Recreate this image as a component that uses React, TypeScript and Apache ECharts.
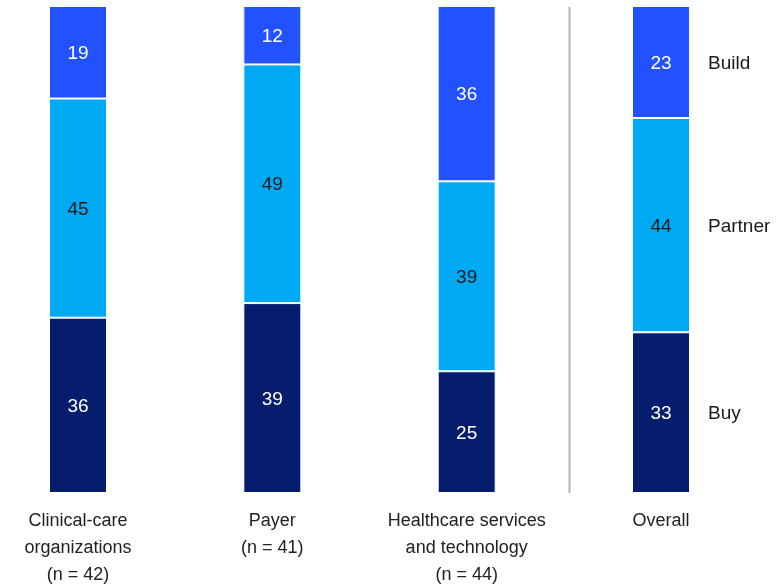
import React, { useEffect, useRef } from "react";
import * as echarts from "echarts";

const categories = [
  "Clinical-care\norganizations\n(n = 42)",
  "Payer\n(n = 41)",
  "Healthcare services\nand technology\n(n = 44)",
  "Overall",
];
const buyValues = [36, 39, 25, 33];
const partnerValues = [45, 49, 39, 44];
const buildValues = [19, 12, 36, 23];
const seriesNames = ["Buy", "Partner", "Build"];

const FONT = "'Liberation Sans Narrow', 'Arial Narrow', 'Liberation Sans', sans-serif";

export default function App() {
  const ref = useRef<HTMLDivElement>(null);
  useEffect(() => {
    if (!ref.current) return;
    const chart = echarts.init(ref.current, undefined, { renderer: "svg" });
    const last = categories.length - 1;
    const mids = [
      buyValues[last] / 2,
      buyValues[last] + partnerValues[last] / 2,
      buyValues[last] + partnerValues[last] + buildValues[last] / 2,
    ];
    const colors = ["#061D6E", "#00A9F4", "#2251FF"];
    const labelColors = ["#ffffff", "#1a1a1a", "#ffffff"];
    const dataSets = [buyValues, partnerValues, buildValues];
    chart.setOption({
      animation: false,
      grid: { left: 78, right: 122, top: 6, bottom: 93 },
      xAxis: {
        type: "category",
        data: categories,
        boundaryGap: false,
        axisLine: { show: false },
        axisTick: { show: false },
        axisLabel: {
          interval: 0,
          margin: 13,
          fontSize: 18,
          lineHeight: 27,
          color: "#222222",
          fontFamily: FONT,
          verticalAlign: "top",
        },
      },
      yAxis: { type: "value", min: 0, max: 100, show: false },
      series: dataSets.map((d, i) => ({
        name: seriesNames[i],
        type: "bar",
        stack: "total",
        barWidth: 58,
        data: d,
        itemStyle: { color: colors[i], borderColor: "#ffffff", borderWidth: 1 },
        label: {
          show: true,
          position: "inside",
          color: labelColors[i],
          fontSize: 19,
          fontFamily: FONT,
        },
        markPoint: {
          symbol: "circle",
          symbolSize: 0,
          data: [{ coord: [last, mids[i]], value: seriesNames[i] }],
          label: {
            show: true,
            position: "right",
            distance: 0,
            offset: [47, 0],
            formatter: seriesNames[i],
            color: "#1a1a1a",
            fontSize: 19,
            fontFamily: FONT,
          },
        },
      })),
      graphic: [
        {
          type: "line",
          shape: { x1: 569.5, y1: 7, x2: 569.5, y2: 493 },
          style: { stroke: "#b5b5b5", lineWidth: 2 },
        },
      ],
    });
    return () => chart.dispose();
  }, []);
  return (
    <div
      ref={ref}
      style={{ position: "fixed", left: 0, top: 0, width: 783, height: 587 }}
    />
  );
}
